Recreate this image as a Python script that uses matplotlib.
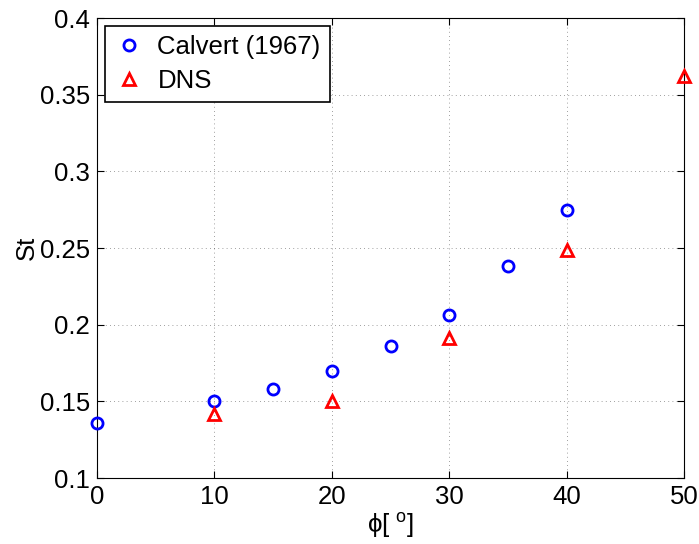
import matplotlib
matplotlib.use('Agg')
import matplotlib.pyplot as plt

plt.rcParams['font.family'] = ['Liberation Sans', 'DejaVu Sans']
plt.rcParams['mathtext.fontset'] = 'custom'
plt.rcParams['mathtext.rm'] = 'Liberation Sans'

# Calvert (1967) experimental data
phi_calvert = [0, 10, 15, 20, 25, 30, 35, 40]
st_calvert = [0.136, 0.150, 0.158, 0.170, 0.186, 0.206, 0.238, 0.275]

# DNS results
phi_dns = [10, 20, 30, 40, 50]
st_dns = [0.142, 0.150, 0.191, 0.249, 0.362]

xticks = [0, 10, 20, 30, 40, 50]
yticks = [0.1, 0.15, 0.2, 0.25, 0.3, 0.35, 0.4]
yticklabels = ['0.1', '0.15', '0.2', '0.25', '0.3', '0.35', '0.4']

fig = plt.figure(figsize=(6.99, 5.44), dpi=100)
ax = fig.add_axes([97/699, 1-478/544, (684-97)/699, (478-18)/544])

ax.plot(phi_calvert, st_calvert, 'o', mfc='none', mec='b', mew=2, ms=8,
        label='Calvert (1967)', clip_on=False, zorder=3)
ax.plot(phi_dns, st_dns, '^', mfc='none', mec='r', mew=2, ms=8,
        label='DNS', clip_on=False, zorder=3)

ax.set_xlim(0, 50)
ax.set_ylim(0.1, 0.4)
ax.set_xticks(xticks)
ax.set_yticks(yticks)
ax.set_yticklabels(yticklabels)
ax.tick_params(direction='in', top=True, right=True, labelsize=18.5, length=5, pad=5)
ax.grid(True, linestyle=(0, (1, 4)), color='k', linewidth=0.6, alpha=0.5)

ax.set_xlabel('ϕ[ $^{\\rm o}$]', fontsize=18.5, labelpad=1)
ax.set_ylabel('St', fontsize=18.5, labelpad=1)

leg = ax.legend(loc='upper left', fontsize=18.5, fancybox=False, framealpha=1,
                edgecolor='k', handlelength=1.2, handletextpad=0.5,
                borderaxespad=0.3, labelspacing=0.4, borderpad=0.35)
leg.get_frame().set_linewidth(1.2)

fig.savefig('out.png', dpi=100)
